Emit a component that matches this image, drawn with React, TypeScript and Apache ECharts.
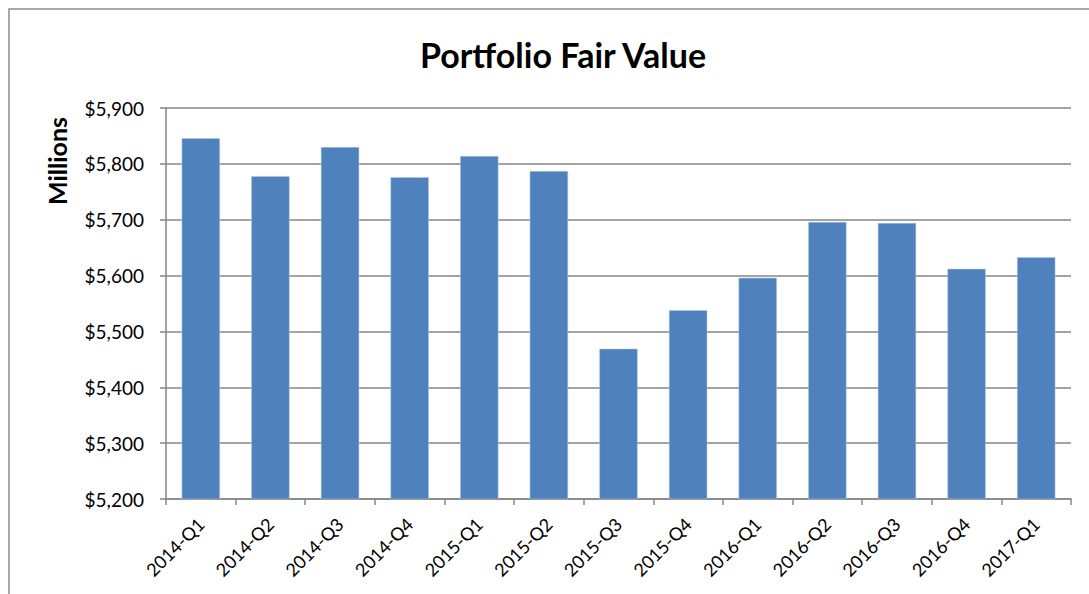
import React, { useEffect, useRef } from "react";
import * as echarts from "echarts";

const categories = [
  "2014-Q1", "2014-Q2", "2014-Q3", "2014-Q4",
  "2015-Q1", "2015-Q2", "2015-Q3", "2015-Q4",
  "2016-Q1", "2016-Q2", "2016-Q3", "2016-Q4", "2017-Q1",
];
const fairValues = [5846, 5778, 5830, 5776, 5814, 5787, 5469, 5538, 5596, 5696, 5694, 5612, 5633];
const yMin = 5200;
const yMax = 5900;
const yStep = 100;

const FONT = "Lato, 'Open Sans', sans-serif";

export default function App() {
  const ref = useRef<HTMLDivElement>(null);
  useEffect(() => {
    if (!ref.current) return;
    const chart = echarts.init(ref.current, null, { renderer: "svg" });
    chart.setOption({
      animation: false,
      backgroundColor: "#ffffff",
      title: {
        text: "Portfolio Fair Value",
        left: 558,
        textAlign: "center",
        top: 32,
        textStyle: { fontFamily: FONT, fontSize: 34, fontWeight: "bold", color: "#000" },
      },
      graphic: [
        {
          type: "rect",
          shape: { x: 9, y: 9, width: 1100, height: 620 },
          style: { fill: "none", stroke: "#8c8c8c", lineWidth: 1.5 },
          silent: true,
        },
        {
          type: "text",
          x: 57,
          y: 161,
          rotation: Math.PI / 2,
          style: {
            text: "Millions",
            fontFamily: FONT,
            fontSize: 25,
            fontWeight: "bold",
            fill: "#000",
            align: "center",
            verticalAlign: "middle",
          },
        },
      ],
      grid: { left: 166, right: 18, top: 108, bottom: 95, containLabel: false },
      xAxis: {
        type: "category",
        data: categories,
        axisLine: { show: true, lineStyle: { color: "#868686", width: 1.5 } },
        axisTick: { show: true, length: 6, lineStyle: { color: "#868686", width: 1.5 } },
        axisLabel: {
          rotate: 45,
          fontFamily: FONT,
          fontSize: 18,
          color: "#000",
          margin: 22,
          interval: 0,
        },
      },
      yAxis: {
        type: "value",
        min: yMin,
        max: yMax,
        interval: yStep,
        axisLine: { show: true, lineStyle: { color: "#868686", width: 1.5 } },
        axisTick: { show: true, length: 6, lineStyle: { color: "#868686", width: 1.5 } },
        splitLine: { show: true, lineStyle: { color: "#868686", width: 1.5 } },
        axisLabel: {
          fontFamily: FONT,
          fontSize: 19,
          color: "#000",
          margin: 22,
          formatter: (v: number) => "$" + v.toLocaleString("en-US"),
        },
      },
      series: [
        {
          type: "bar",
          data: fairValues,
          barCategoryGap: "45%",
          itemStyle: { color: "#4F81BD", borderColor: "#b9cde5", borderWidth: 0.5 },
        },
      ],
    });
    return () => chart.dispose();
  }, []);
  return (
    <div
      ref={ref}
      style={{ position: "absolute", left: 0, top: 0, width: 1089, height: 594 }}
    />
  );
}
